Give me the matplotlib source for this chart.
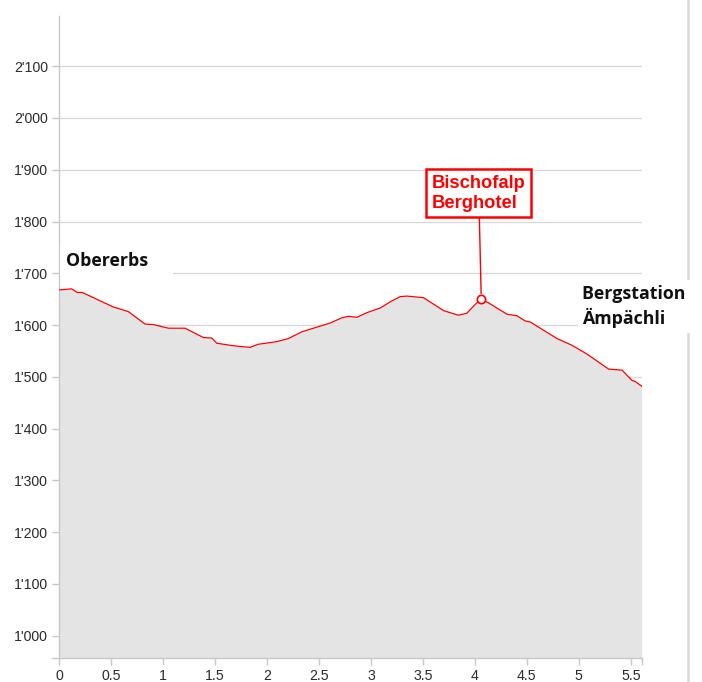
import matplotlib
matplotlib.use('Agg')
import matplotlib.pyplot as plt
from matplotlib.lines import Line2D
from matplotlib.ticker import FuncFormatter, FixedLocator
import numpy as np

# ---- data ----
distance_km = [0.0, 0.119, 0.173, 0.221, 0.296, 0.520, 0.601, 0.664, 0.825, 0.905,
               1.050, 1.210, 1.387, 1.468, 1.516, 1.644, 1.724, 1.836, 1.916, 2.093,
               2.205, 2.334, 2.414, 2.607, 2.719, 2.783, 2.864, 2.960, 3.088, 3.185,
               3.281, 3.345, 3.505, 3.698, 3.842, 3.923, 4.003, 4.061, 4.131, 4.308,
               4.404, 4.484, 4.532, 4.790, 4.934, 5.079, 5.287, 5.416, 5.464, 5.512,
               5.544, 5.605]
elevation_m = [1668, 1670, 1663, 1663, 1656, 1635, 1630, 1626, 1602, 1601,
               1594, 1594, 1576, 1575, 1565, 1561, 1559, 1557, 1563, 1568,
               1574, 1587, 1592, 1604, 1614, 1617, 1615, 1624, 1633, 1645,
               1655, 1656, 1653, 1628, 1619, 1623, 1640, 1650, 1643, 1621,
               1618, 1608, 1606, 1574, 1561, 1544, 1515, 1513, 1503, 1493,
               1491, 1482]

x_ticks = [0, 0.5, 1, 1.5, 2, 2.5, 3, 3.5, 4, 4.5, 5, 5.5]
y_ticks = [1000, 1100, 1200, 1300, 1400, 1500, 1600, 1700, 1800, 1900, 2000, 2100]
y_min, y_max = 957, 2197

start_label = "Obererbs"
start_point = (0.065, 1714)
end_label = "Bergstation  \nÄmpächli"
end_point = (5.033, 1636)
poi_label = "Bischofalp\nBerghotel"
poi_point = (4.061, 1650)

# ---- figure ----
W, H = 702, 682
fig = plt.figure(figsize=(W / 100, H / 100), dpi=100)
fig.patch.set_facecolor('white')
ax = fig.add_axes([59.3 / W, 1 - 658 / H, (641.7 - 59.3) / W, (658 - 16) / H])
ax.set_zorder(1)

grid_c = '#d9d9d9'
spine_c = '#c8c8c8'

ax.set_xlim(0, distance_km[-1])
ax.set_ylim(y_min, y_max)

ax.fill_between(distance_km, elevation_m, y_min, color='#e4e4e4', lw=0, zorder=2)
ax.plot(distance_km, elevation_m, color='#ff0000', lw=0.9, zorder=3)

ax.set_yticks(y_ticks)
ax.set_xticks(x_ticks)
ax.yaxis.set_major_formatter(FuncFormatter(lambda v, p: f"{v:,.0f}".replace(',', "'")))
ax.xaxis.set_major_formatter(FuncFormatter(lambda v, p: f"{v:g}"))
ax.xaxis.set_minor_locator(FixedLocator([distance_km[-1]]))

ax.grid(axis='y', color=grid_c, lw=1)
ax.set_axisbelow(True)
for s in ['top', 'right']:
    ax.spines[s].set_visible(False)
for s in ['left', 'bottom']:
    ax.spines[s].set_color(spine_c)
    ax.spines[s].set_linewidth(1)

ax.tick_params(axis='both', which='both', color=spine_c, length=5, width=1,
               labelsize=10.2, labelcolor='#2a2a2a', pad=3)
for lab in ax.get_xticklabels() + ax.get_yticklabels():
    lab.set_fontfamily('Liberation Sans')

# left extension of x-axis line
ax.plot([-0.012, 0], [0, 0], transform=ax.transAxes, clip_on=False,
        color=spine_c, lw=1)

# right vertical divider
fig.add_artist(Line2D([688.3 / W] * 2, [0, 1], transform=fig.transFigure,
                      color='#dadada', lw=1.8, zorder=-1))

label_font = dict(family='Open Sans', weight='bold', size=12.8, color='#111111')
ax.text(start_point[0], start_point[1], start_label + "    ", ha='left', va='baseline',
        zorder=5, clip_on=False,
        bbox=dict(boxstyle='square,pad=0.35', fc='white', ec='none'), **label_font)
ax.text(end_point[0], end_point[1], end_label, ha='left', va='center',
        zorder=5, clip_on=False, linespacing=1.35,
        bbox=dict(boxstyle='square,pad=0.25', fc='white', ec='none'), **label_font)

ax.plot([poi_point[0]], [poi_point[1]], marker='o', ms=6, mfc='white', mec='#ff0000',
        mew=1.2, zorder=6)
ax.annotate(poi_label, xy=poi_point, xytext=(-2.5, 106), textcoords='offset pixels',
            ha='center', va='center', multialignment='left', color='#ff0000',
            fontsize=13.2, fontfamily='Liberation Sans', fontweight='bold',
            linespacing=1.2, zorder=7, annotation_clip=False,
            bbox=dict(boxstyle='square,pad=0.3', fc='white', ec='#ff0000', lw=1.8),
            arrowprops=dict(arrowstyle='-', color='#ff0000', lw=1, shrinkA=0, shrinkB=4))

fig.savefig('out.png', dpi=100)
